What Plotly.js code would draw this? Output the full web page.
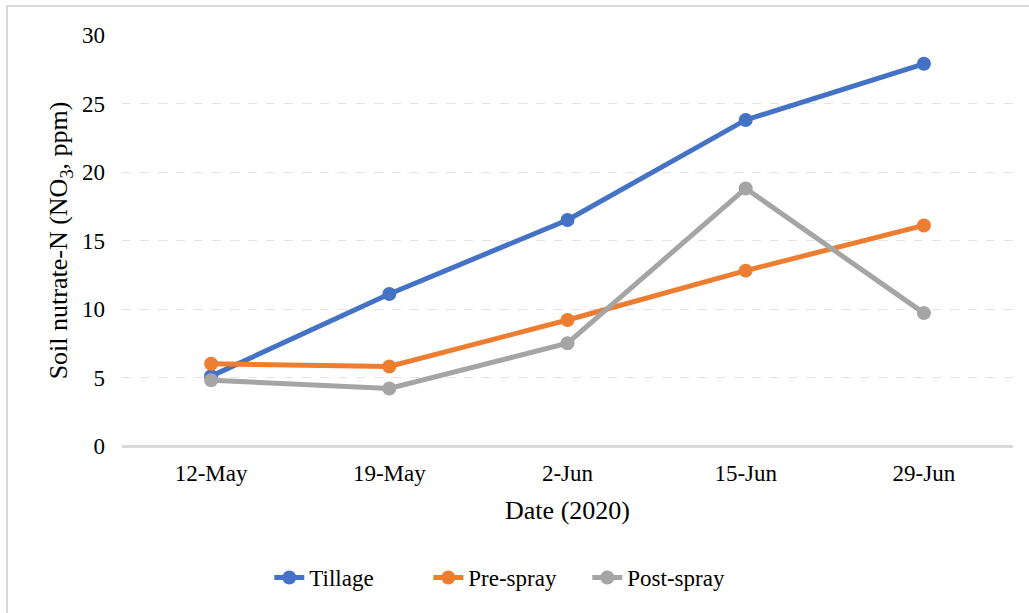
<!DOCTYPE html>
<html>
<head>
<meta charset="utf-8">
<script src="https://cdn.plot.ly/plotly-3.0.1.min.js"></script>
<style>
html,body{margin:0;padding:0;background:#fff;}
#wrap{position:relative;width:1029px;height:613px;overflow:hidden;}
#frame{position:absolute;left:6px;top:5px;width:1040px;height:640px;border:2px solid #d9d9d9;box-sizing:border-box;pointer-events:none;}
#chart{position:absolute;left:0;top:0;width:1029px;height:613px;}
</style>
</head>
<body>
<div id="wrap">
<div id="chart"></div>
<div id="frame"></div>
</div>
<script>
const categories = ["12-May", "19-May", "2-Jun", "15-Jun", "29-Jun"];
const tillage = [5.1, 11.1, 16.5, 23.8, 27.9];
const preSpray = [6.0, 5.8, 9.2, 12.8, 16.1];
const postSpray = [4.8, 4.2, 7.5, 18.8, 9.7];
const seriesNames = ["Tillage", "Pre-spray", "Post-spray"];
const colors = ["#4472C4", "#ED7D31", "#A5A5A5"];
const yTicks = [0, 5, 10, 15, 20, 25, 30];

const font = "'Liberation Serif', 'Times New Roman', serif";
const data = [tillage, preSpray, postSpray].map((v, i) => ({
  x: categories, y: v, name: seriesNames[i], type: "scatter", mode: "lines+markers",
  line: {color: colors[i], width: 5},
  marker: {color: colors[i], size: 14}
}));
const layout = {
  width: 1029, height: 613,
  margin: {l: 122, r: 16, t: 35, b: 167},
  paper_bgcolor: "#fff", plot_bgcolor: "#fff",
  font: {family: font, size: 23, color: "#000"},
  showlegend: true,
  legend: {orientation: "h", x: 0.433, xanchor: "center", y: -0.32, yanchor: "middle",
           font: {family: font, size: 23, color: "#000"}, entrywidth: 114, entrywidthmode: "pixels"},
  xaxis: {type: "category", range: [-0.5, 4.5], showgrid: false, zeroline: false, showline: true,
          linecolor: "#d9d9d9", linewidth: 2, ticks: "", tickfont: {family: font, size: 23},
          ticklabelstandoff: 5,
          title: {text: "Date (2020)", font: {family: font, size: 26}, standoff: 16}},
  yaxis: {range: [0, 30], tickvals: yTicks, showgrid: true, gridcolor: "#e3e3e3",
          griddash: "dash", gridwidth: 1, zeroline: false, showline: false, ticks: "",
          tickfont: {family: font, size: 23}, ticklabelstandoff: 16,
          title: {text: "Soil nutrate-N (NO<sub>3</sub>, ppm)", font: {family: font, size: 26}, standoff: 6}},
  shapes: [{type: "line", xref: "paper", yref: "y", x0: 0, x1: 1, y0: 0, y1: 0,
            line: {color: "#d9d9d9", width: 2}}]
};
Plotly.newPlot("chart", data, layout, {displayModeBar: false, staticPlot: true});
</script>
</body>
</html>
